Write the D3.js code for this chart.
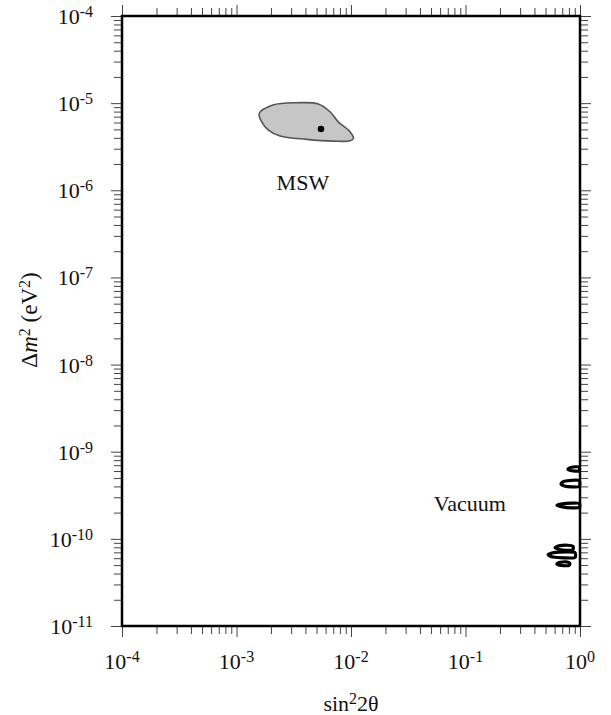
<!DOCTYPE html>
<html>
<head>
<meta charset="utf-8">
<script src="https://cdn.jsdelivr.net/npm/d3@7"></script>
<style>
  body { margin: 0; background: #fff; }
  svg text { font-family: "Liberation Serif", "Times New Roman", serif; fill: #111; }
</style>
</head>
<body>
<svg id="chart"></svg>
<script>
// decades shown on each axis
const xDecades = [1e-4, 1e-3, 1e-2, 1e-1, 1];
const xExponents = ["-4", "-3", "-2", "-1", "0"];
const yDecades = [1e-4, 1e-5, 1e-6, 1e-7, 1e-8, 1e-9, 1e-10, 1e-11];
const yExponents = ["-4", "-5", "-6", "-7", "-8", "-9", "-10", "-11"];

// MSW allowed region (sin^2 2theta, dm^2)
const mswX = [1.58e-3, 2.08e-3, 3.36e-3, 5.18e-3, 6.56e-3, 7.74e-3, 9.8e-3, 1.05e-2, 9.8e-3, 7.0e-3, 4.1e-3, 2.4e-3, 1.9e-3, 1.66e-3];
const mswY = [7.6e-6, 9.5e-6, 1.01e-5, 9.8e-6, 7.97e-6, 6.1e-6, 4.7e-6, 3.94e-6, 3.7e-6, 3.67e-6, 3.84e-6, 4.19e-6, 4.91e-6, 6.1e-6];
const bestFit = { x: 5.47e-3, y: 5.04e-6 };

// vacuum islands, each a closed contour (pointed on the left)
const vacuumX = [
  [0.785, 0.83, 0.92, 0.985, 0.985, 0.92, 0.83],
  [0.683, 0.73, 0.85, 0.985, 0.985, 0.85, 0.73],
  [0.629, 0.70, 0.85, 0.985, 0.985, 0.85, 0.70],
  [0.605, 0.65, 0.78, 0.87, 0.86, 0.75, 0.66],
  [0.526, 0.59, 0.75, 0.90, 0.90, 0.72, 0.58],
  [0.629, 0.67, 0.76, 0.815, 0.80, 0.72, 0.66]
];
const vacuumY = [
  [6.30e-10, 6.58e-10, 6.72e-10, 6.65e-10, 6.02e-10, 5.98e-10, 6.08e-10],
  [4.30e-10, 4.58e-10, 4.70e-10, 4.66e-10, 3.98e-10, 3.95e-10, 4.05e-10],
  [2.43e-10, 2.53e-10, 2.57e-10, 2.56e-10, 2.29e-10, 2.27e-10, 2.33e-10],
  [7.90e-11, 8.30e-11, 8.45e-11, 8.20e-11, 7.45e-11, 7.40e-11, 7.55e-11],
  [6.55e-11, 6.95e-11, 7.10e-11, 7.00e-11, 6.10e-11, 6.05e-11, 6.20e-11],
  [5.15e-11, 5.38e-11, 5.45e-11, 5.25e-11, 4.95e-11, 4.92e-11, 4.98e-11]
];

const labels = [
  { text: "MSW", x: 3.8e-3, y: 1.0e-6 },
  { text: "Vacuum", x: 0.109, y: 2.1e-10 }
];

const W = 611, H = 715;
const margin = { top: 16, right: 31, bottom: 89, left: 122 };
const width = W - margin.left - margin.right,
      height = H - margin.top - margin.bottom;

const svg = d3.select("#chart")
  .attr("width", W)
  .attr("height", H);

const g = svg.append("g")
  .attr("transform", `translate(${margin.left},${margin.top})`);

const x = d3.scaleLog().domain([1e-4, 1]).range([0, width]);
const y = d3.scaleLog().domain([1e-11, 1e-4]).range([height, 0]);

const xMinor = x.ticks().filter(v => !xDecades.some(d => Math.abs(v / d - 1) < 1e-6));
const yMinor = y.ticks().filter(v => !yDecades.some(d => Math.abs(v / d - 1) < 1e-6));

const styleAxis = sel => {
  sel.select(".domain").remove();
  sel.selectAll(".tick line").attr("stroke", "#444").attr("stroke-width", 1);
  sel.selectAll(".tick text").remove();
};

// ticks on all four sides, pointing outward
const axes = [
  [d3.axisBottom, `translate(0,${height})`, x, xDecades, xMinor],
  [d3.axisTop, "translate(0,0)", x, xDecades, xMinor],
  [d3.axisLeft, "translate(0,0)", y, yDecades, yMinor],
  [d3.axisRight, `translate(${width},0)`, y, yDecades, yMinor]
];
axes.forEach(([fn, tr, sc, major, minor]) => {
  g.append("g").attr("transform", tr)
    .call(fn(sc).tickValues(minor).tickSize(8).tickSizeOuter(0))
    .call(styleAxis);
  g.append("g").attr("transform", tr)
    .call(fn(sc).tickValues(major).tickSize(11).tickSizeOuter(0))
    .call(styleAxis);
});

// tick labels with superscript exponents
const xl = g.selectAll(".xlab")
  .data(xDecades)
  .enter().append("text")
  .attr("class", "xlab")
  .attr("x", d => x(d))
  .attr("y", height + 43)
  .attr("text-anchor", "middle")
  .style("font-size", "22px");
xl.append("tspan").text("10");
xl.append("tspan").attr("dy", -7).style("font-size", "16px").text((d, i) => xExponents[i]);

const yl = g.selectAll(".ylab")
  .data(yDecades)
  .enter().append("text")
  .attr("class", "ylab")
  .attr("x", -29)
  .attr("y", d => y(d) + 8)
  .attr("text-anchor", "end")
  .style("font-size", "22px");
yl.append("tspan").text("10");
yl.append("tspan").attr("dy", -7).style("font-size", "16px").text((d, i) => yExponents[i]);

// MSW region
const msw = mswX.map((v, i) => [v, mswY[i]]);
const closedLine = d3.line()
  .x(d => x(d[0]))
  .y(d => y(d[1]))
  .curve(d3.curveCatmullRomClosed.alpha(0.5));

g.append("path")
  .datum(msw)
  .attr("d", closedLine)
  .attr("fill", "#c6c6c6")
  .attr("stroke", "#555")
  .attr("stroke-width", 1.6);

g.append("circle")
  .attr("cx", x(bestFit.x))
  .attr("cy", y(bestFit.y))
  .attr("r", 3.3)
  .attr("fill", "#000");

// vacuum islands
const islandLine = d3.line()
  .x(d => x(d[0]))
  .y(d => y(d[1]))
  .curve(d3.curveCardinalClosed.tension(0.3));

vacuumX.forEach((xs, k) => {
  g.append("path")
    .datum(xs.map((v, i) => [v, vacuumY[k][i]]))
    .attr("d", islandLine)
    .attr("fill", "none")
    .attr("stroke", "#000")
    .attr("stroke-width", 3.2)
    .attr("stroke-linejoin", "round");
});

// frame
g.append("rect")
  .attr("width", width)
  .attr("height", height)
  .attr("fill", "none")
  .attr("stroke", "#000")
  .attr("stroke-width", 2.5);

// annotations
g.selectAll(".note")
  .data(labels)
  .enter().append("text")
  .attr("class", "note")
  .attr("x", d => x(d.x))
  .attr("y", d => y(d.y))
  .attr("text-anchor", "middle")
  .style("font-size", "22px")
  .text(d => d.text);

// axis titles
const xt = svg.append("text")
  .attr("x", 351)
  .attr("y", 711)
  .attr("text-anchor", "middle")
  .style("font-size", "22px");
xt.append("tspan").text("sin");
xt.append("tspan").attr("dy", -7).style("font-size", "16px").text("2");
xt.append("tspan").attr("dy", 7).text("2θ");

const yt = svg.append("text")
  .attr("transform", "translate(37,320) rotate(-90)")
  .attr("text-anchor", "middle")
  .style("font-size", "23px");
yt.append("tspan").text("Δ");
yt.append("tspan").style("font-style", "italic").text("m");
yt.append("tspan").attr("dy", -7).style("font-size", "16px").text("2");
yt.append("tspan").attr("dy", 7).text(" (eV");
yt.append("tspan").attr("dy", -7).style("font-size", "16px").text("2");
yt.append("tspan").attr("dy", 7).text(")");
</script>
</body>
</html>
